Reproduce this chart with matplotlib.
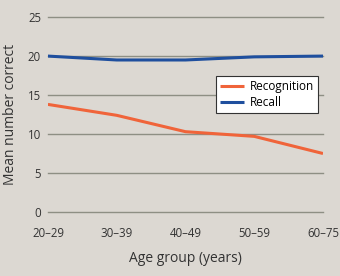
import matplotlib
matplotlib.use("Agg")
import matplotlib.pyplot as plt

age_groups = ["20–29", "30–39", "40–49", "50–59", "60–75"]
recognition = [13.8, 12.4, 10.3, 9.7, 7.5]
recall = [20.0, 19.5, 19.5, 19.9, 20.0]
yticks = [0, 5, 10, 15, 20, 25]

plt.rcParams['font.family'] = ['Open Sans', 'DejaVu Sans']
bg = '#dcd8d2'
fig = plt.figure(figsize=(3.4, 2.76), dpi=100, facecolor=bg)
ax = fig.add_axes([0.141, 0.232, 0.809, 0.706], facecolor=bg)
x = list(range(len(age_groups)))
ax.plot(x, recognition, color='#f0643a', lw=2.2, label='Recognition', solid_capstyle='butt')
ax.plot(x, recall, color='#1f4f9e', lw=2.2, label='Recall', solid_capstyle='butt')
ax.set_xlim(0, 4)
ax.set_ylim(0, 25)
ax.set_yticks(yticks)
ax.set_xticks(x)
ax.set_xticklabels(age_groups)
ax.grid(axis='y', color='#8e8f84', lw=1.0)
for gl in ax.get_ygridlines():
    gl.set_clip_on(False)
ax.set_axisbelow(True)
for s in ax.spines.values():
    s.set_visible(False)
ax.tick_params(length=0, labelsize=8.3, colors='#333333')
ax.tick_params(axis='y', pad=5)
ax.tick_params(axis='x', pad=11)
ax.set_ylabel('Mean number correct', fontsize=10, color='#333333', labelpad=7)
ax.set_xlabel('Age group (years)', fontsize=10, color='#333333', labelpad=8)
leg = ax.legend(loc='upper left', bbox_to_anchor=(0.611, 0.70), fontsize=8.5, frameon=True,
                fancybox=False, edgecolor='#333333', framealpha=1, handlelength=2.0,
                borderpad=0.35, labelspacing=0.25, handletextpad=0.5, borderaxespad=0)
leg.get_frame().set_linewidth(0.8)
fig.savefig('out.png', dpi=100, facecolor=bg)
